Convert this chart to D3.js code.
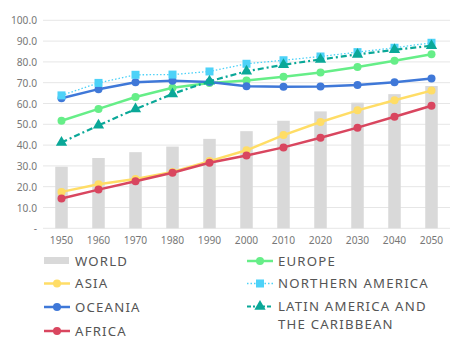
<!DOCTYPE html>
<html><head><meta charset="utf-8">
<script src="https://cdn.jsdelivr.net/npm/d3@7"></script>
<style>body{margin:0;background:#fff}svg{display:block}text{font-family:"Noto Sans",sans-serif}</style>
</head><body><svg id="c" width="470" height="350"></svg>
<script>
const years = ["1950","1960","1970","1980","1990","2000","2010","2020","2030","2040","2050"];
const world = [29.6,33.8,36.6,39.3,43.0,46.7,51.7,56.2,60.4,64.5,68.4];
const asia = [17.5,21.2,23.7,27.1,32.3,37.5,44.8,51.1,56.7,61.6,66.2];
const oceania = [62.5,66.9,70.2,70.9,70.3,68.3,68.1,68.2,68.9,70.2,72.0];
const africa = [14.3,18.6,22.6,26.7,31.5,35.0,38.9,43.5,48.4,53.6,58.9];
const europe = [51.7,57.4,63.1,67.6,69.9,71.1,72.9,74.9,77.5,80.6,83.7];
const northernAmerica = [63.9,69.9,73.8,73.9,75.4,79.1,80.8,82.6,84.7,86.8,89.2];
const latinAmerica = [41.3,49.5,57.3,64.6,70.7,75.5,78.6,81.2,83.6,85.8,87.8];
const yTicks = [0,10,20,30,40,50,60,70,80,90,100];

const svg = d3.select("#c");
const x = d3.scaleBand().domain(years).range([43,450]).padding(0);
const y = d3.scaleLinear().domain([0,100]).range([228.3,20.3]);

// grid
svg.append("g").selectAll("line").data(yTicks).join("line")
  .attr("x1",43).attr("x2",450).attr("y1",d=>y(d)).attr("y2",d=>y(d))
  .attr("stroke","#e6e6e6").attr("stroke-width",1);

// y axis labels
const yAxis = d3.axisLeft(y).tickValues(yTicks).tickSize(0).tickPadding(0)
  .tickFormat(d=>d===0?"-":d.toFixed(1));
const ya = svg.append("g").attr("transform","translate(37,0)").call(yAxis);
ya.select(".domain").remove();
ya.selectAll("text").attr("fill","#777").attr("font-size",10.2).attr("dy","0.35em");

// x axis labels
const xAxis = d3.axisBottom(x).tickSize(0).tickPadding(0);
const xa = svg.append("g").attr("transform","translate(0,240)").call(xAxis);
xa.select(".domain").remove();
xa.selectAll("text").attr("fill","#777").attr("font-size",10.2).attr("dy","0.35em");

// bars
const bw = 12.5;
svg.append("g").selectAll("rect").data(world).join("rect")
  .attr("x",(d,i)=>x(years[i])+x.bandwidth()/2-bw/2)
  .attr("width",bw)
  .attr("y",d=>y(d)).attr("height",d=>y(0)-y(d))
  .attr("fill","#d9d9d9");

const series = [
  {name:"ASIA", data:asia, color:"#ffdd66", dash:null, w:2.5, marker:"circle"},
  {name:"AFRICA", data:africa, color:"#d9465f", dash:null, w:2.5, marker:"circle"},
  {name:"EUROPE", data:europe, color:"#66ee88", dash:null, w:2.5, marker:"circle"},
  {name:"OCEANIA", data:oceania, color:"#3f78d8", dash:null, w:2.5, marker:"circle"},
  {name:"NORTHERN AMERICA", data:northernAmerica, color:"#4dd2f8", dash:"1.5,2", w:1.3, marker:"square"},
  {name:"LATIN AMERICA", data:latinAmerica, color:"#0aa898", dash:"6,3,2,3", w:2.2, marker:"triangle"}
];
const line = d3.line().x((d,i)=>x(years[i])+x.bandwidth()/2).y(d=>y(d));
function marker(g, type, color, cx, cy){
  if(type==="circle") g.append("circle").attr("cx",cx).attr("cy",cy).attr("r",4).attr("fill",color);
  else if(type==="square") g.append("rect").attr("x",cx-4).attr("y",cy-4).attr("width",8).attr("height",8).attr("fill",color);
  else g.append("path").attr("d",d3.symbol(d3.symbolTriangle,55)()).attr("transform",`translate(${cx},${cy})`).attr("fill",color);
}
series.forEach(s=>{
  const g = svg.append("g");
  g.append("path").datum(s.data).attr("d",line).attr("fill","none")
    .attr("stroke",s.color).attr("stroke-width",s.w).attr("stroke-dasharray",s.dash);
  s.data.forEach((d,i)=>marker(g,s.marker,s.color,x(years[i])+x.bandwidth()/2,y(d)));
});

// legend
const leg = svg.append("g");
const items = [
  {label:["WORLD"], type:"bar", color:"#d9d9d9", x:44, y:261},
  {label:["ASIA"], type:"circle", color:"#ffdd66", x:44, y:283.5, w:2.5},
  {label:["OCEANIA"], type:"circle", color:"#3f78d8", x:44, y:307, w:2.5},
  {label:["AFRICA"], type:"circle", color:"#d9465f", x:44, y:331, w:2.5},
  {label:["EUROPE"], type:"circle", color:"#66ee88", x:247, y:261, w:2.5},
  {label:["NORTHERN AMERICA"], type:"square", color:"#4dd2f8", x:247, y:283.5, dash:"1.5,2", w:1.3},
  {label:["LATIN AMERICA AND","THE CARIBBEAN"], type:"triangle", color:"#0aa898", x:247, y:306.5, dash:"4,2,2,2", w:2.2}
];
items.forEach(it=>{
  if(it.type==="bar"){
    leg.append("rect").attr("x",it.x).attr("y",it.y-4).attr("width",25).attr("height",7).attr("fill",it.color);
  } else {
    leg.append("line").attr("x1",it.x).attr("x2",it.x+26).attr("y1",it.y).attr("y2",it.y)
      .attr("stroke",it.color).attr("stroke-width",it.w).attr("stroke-dasharray",it.dash||null);
    marker(leg,it.type,it.color,it.x+13,it.y);
  }
  it.label.forEach((t,k)=>{
    leg.append("text").attr("x",it.x+31).attr("y",it.y+k*18).attr("dy","0.35em")
      .attr("font-size",13.2).attr("letter-spacing",1.2).attr("fill","#555").text(t);
  });
});
</script></body></html>
